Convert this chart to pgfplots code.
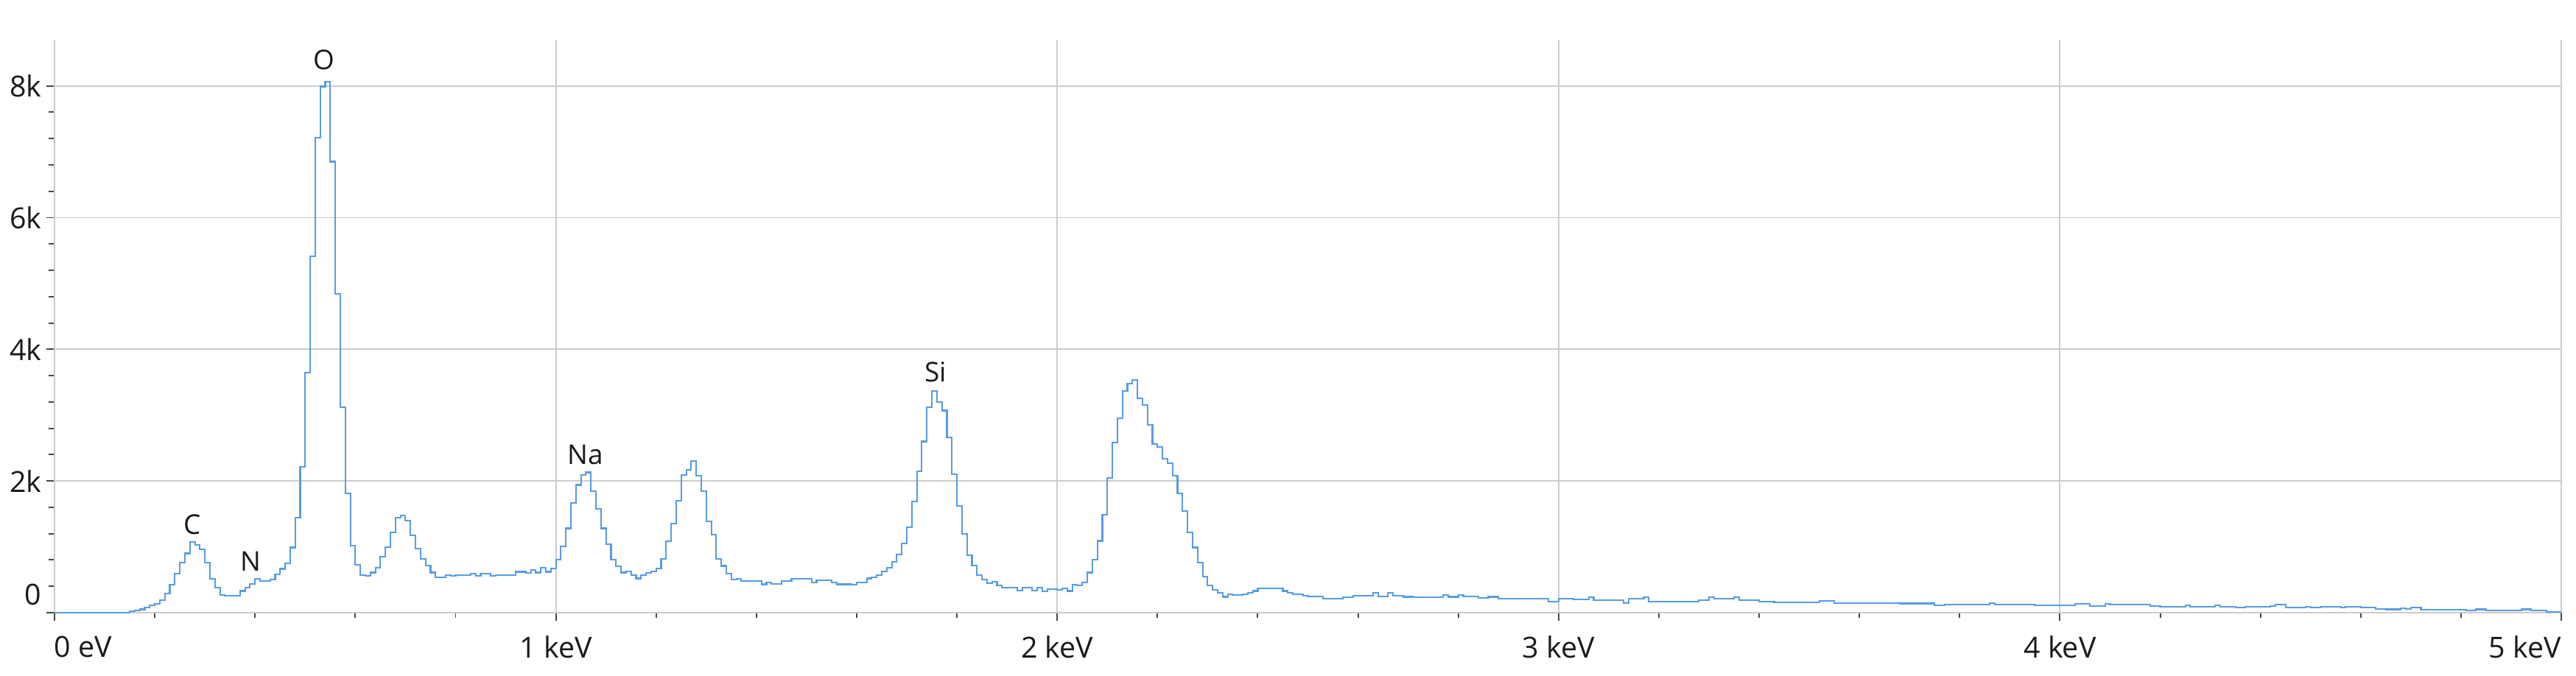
\documentclass[border=0pt]{standalone}
\usepackage{fontspec}
\setmainfont{Open Sans}
\usepackage{pgfplots}
\pgfplotsset{compat=1.18}
\definecolor{spec}{RGB}{86,156,228}
\definecolor{gridc}{RGB}{204,204,204}
\definecolor{tickc}{RGB}{70,70,70}
\definecolor{txt}{RGB}{25,25,25}
\begin{document}
\begin{tikzpicture}
\path[use as bounding box] (0,0) rectangle (34.97cm,9.18cm);
\begin{axis}[
  at={(0.74cm,0.86cm)}, anchor=south west,
  scale only axis, width=34.03cm, height=7.78cm,
  xmin=0, xmax=5, ymin=0, ymax=8700,
  axis x line*=bottom, axis y line*=left,
  axis line style={draw=gridc, line width=0.55pt, -},
  xtick={0,1,2,3,4,5},
  xticklabels={\makebox[0pt][l]{0 eV},1 keV,2 keV,3 keV,4 keV,\makebox[0pt][r]{5 keV}},
  minor x tick num=4,
  ytick={0,2000,4000,6000,8000},
  yticklabels={\raisebox{0.1cm}[0pt][0pt]{0},2k,4k,6k,8k},
  minor y tick num=4,
  tick align=outside,
  major tick length=0.11cm, minor tick length=0.075cm,
  tick style={draw=tickc, line width=0.55pt},
  grid=major,
  major grid style={draw=gridc, line width=0.55pt},
  tick label style={font=\fontsize{11.2}{13}\selectfont, text=txt, inner sep=0pt},
  xticklabel style={anchor=north, yshift=-0.2cm},
  yticklabel style={anchor=east, xshift=-0.06cm},
  clip=false,
]
\addplot[spec, line width=0.6pt, const plot mark left, no marks] table[row sep=\\] {
E c\\
0.00 0\\ 0.15 26\\ 0.16 30\\ 0.17 50\\ 0.18 80\\ 0.19 110\\
0.20 130\\ 0.21 190\\ 0.22 290\\ 0.23 420\\ 0.24 590\\ 0.25 760\\ 0.26 900\\ 0.27 1070\\ 0.28 1030\\ 0.29 960\\
0.30 760\\ 0.31 510\\ 0.32 380\\ 0.33 270\\ 0.34 260\\ 0.35 255\\ 0.36 260\\ 0.37 330\\ 0.38 385\\ 0.39 440\\
0.40 510\\ 0.41 480\\ 0.42 480\\ 0.43 500\\ 0.44 580\\ 0.45 665\\ 0.46 745\\ 0.47 990\\ 0.48 1440\\ 0.49 2210\\
0.50 3650\\ 0.51 5410\\ 0.52 7210\\ 0.53 7990\\ 0.54 8060\\ 0.55 6850\\ 0.56 4840\\ 0.57 3120\\ 0.58 1810\\ 0.59 1020\\
0.60 730\\ 0.61 575\\ 0.62 560\\ 0.63 610\\ 0.64 685\\ 0.65 850\\ 0.66 1000\\ 0.67 1220\\ 0.68 1440\\ 0.69 1480\\
0.70 1400\\ 0.71 1170\\ 0.72 970\\ 0.73 820\\ 0.74 720\\ 0.75 610\\ 0.76 540\\ 0.77 540\\ 0.78 570\\ 0.79 560\\
0.80 570\\ 0.83 590\\ 0.84 560\\ 0.85 590\\ 0.87 560\\ 0.88 570\\
0.92 620\\ 0.94 600\\ 0.95 650\\ 0.96 610\\ 0.97 685\\ 0.98 620\\ 0.99 670\\
1.00 810\\ 1.01 1010\\ 1.02 1280\\ 1.03 1670\\ 1.04 1940\\ 1.05 2090\\ 1.06 2130\\ 1.07 1850\\ 1.08 1580\\ 1.09 1280\\
1.10 1040\\ 1.11 810\\ 1.12 700\\ 1.13 610\\ 1.14 630\\ 1.15 570\\ 1.16 520\\ 1.17 570\\ 1.18 600\\ 1.19 630\\
1.20 670\\ 1.21 820\\ 1.22 1080\\ 1.23 1350\\ 1.24 1700\\ 1.25 2090\\ 1.26 2170\\ 1.27 2300\\ 1.28 2080\\ 1.29 1850\\
1.30 1390\\ 1.31 1190\\ 1.32 820\\ 1.33 710\\ 1.34 590\\ 1.35 500\\ 1.36 510\\ 1.37 480\\
1.41 430\\ 1.42 460\\ 1.43 440\\ 1.45 480\\ 1.47 510\\ 1.51 460\\ 1.52 490\\ 1.55 460\\ 1.56 430\\ 1.59 420\\
1.60 460\\ 1.62 520\\ 1.63 540\\ 1.64 570\\ 1.65 630\\ 1.66 680\\ 1.67 770\\ 1.68 880\\ 1.69 1050\\
1.70 1300\\ 1.71 1690\\ 1.72 2150\\ 1.73 2600\\ 1.74 3120\\ 1.75 3370\\ 1.76 3200\\ 1.77 3070\\ 1.78 2660\\ 1.79 2100\\
1.80 1620\\ 1.81 1200\\ 1.82 870\\ 1.83 720\\ 1.84 570\\ 1.85 500\\ 1.86 450\\ 1.87 470\\ 1.88 410\\ 1.89 380\\
1.92 340\\ 1.93 380\\ 1.95 340\\ 1.96 380\\ 1.97 320\\ 1.98 360\\
2.00 350\\ 2.01 370\\ 2.02 330\\ 2.03 420\\ 2.04 410\\ 2.05 460\\ 2.06 610\\ 2.07 810\\ 2.08 1090\\ 2.09 1490\\
2.10 2050\\ 2.11 2580\\ 2.12 2950\\ 2.13 3370\\ 2.14 3480\\ 2.15 3530\\ 2.16 3250\\ 2.17 3150\\ 2.18 2850\\ 2.19 2560\\
2.20 2520\\ 2.21 2340\\ 2.22 2270\\ 2.23 2080\\ 2.24 1810\\ 2.25 1540\\ 2.26 1220\\ 2.27 990\\ 2.28 760\\ 2.29 550\\
2.30 410\\ 2.31 350\\ 2.32 300\\ 2.33 240\\ 2.34 280\\ 2.35 270\\ 2.37 280\\ 2.38 300\\ 2.39 330\\
2.40 370\\ 2.45 330\\ 2.46 300\\ 2.47 280\\ 2.49 260\\ 2.50 250\\ 2.53 210\\ 2.57 230\\ 2.59 260\\
2.63 300\\ 2.64 250\\ 2.66 300\\ 2.67 260\\ 2.69 240\\ 2.71 230\\ 2.77 270\\ 2.78 240\\
2.80 270\\ 2.81 250\\ 2.84 220\\ 2.86 240\\ 2.88 210\\ 2.98 170\\
3.00 210\\ 3.03 200\\ 3.06 230\\ 3.07 190\\ 3.13 150\\ 3.14 210\\ 3.17 230\\ 3.18 170\\ 3.28 190\\
3.30 230\\ 3.31 210\\ 3.35 230\\ 3.36 190\\ 3.40 170\\ 3.43 160\\ 3.52 180\\ 3.55 150\\ 3.68 140\\
3.75 110\\ 3.77 125\\ 3.86 150\\ 3.87 125\\ 3.92 120\\ 3.95 110\\
4.00 110\\ 4.03 130\\ 4.06 100\\ 4.09 130\\ 4.10 120\\ 4.18 100\\ 4.20 90\\ 4.25 110\\ 4.26 90\\
4.31 110\\ 4.32 90\\ 4.35 75\\ 4.37 90\\ 4.42 100\\ 4.43 120\\ 4.45 80\\ 4.49 90\\
4.50 75\\ 4.52 90\\ 4.56 75\\ 4.57 90\\ 4.60 75\\ 4.63 60\\ 4.65 50\\ 4.68 65\\ 4.69 60\\
4.70 75\\ 4.72 45\\ 4.81 30\\ 4.83 50\\ 4.85 37\\ 4.92 50\\ 4.94 30\\ 4.97 8\\ 5.00 8\\
};
\node[font=\fontsize{10.5}{12}\selectfont, text=txt] at (axis cs:0.275,1333) {C};
\node[font=\fontsize{10.5}{12}\selectfont, text=txt] at (axis cs:0.392,784) {N};
\node[font=\fontsize{10.5}{12}\selectfont, text=txt] at (axis cs:0.537,8390) {O};
\node[font=\fontsize{10.5}{12}\selectfont, text=txt] at (axis cs:1.059,2400) {Na};
\node[font=\fontsize{10.5}{12}\selectfont, text=txt] at (axis cs:1.758,3650) {Si};
\end{axis}
\end{tikzpicture}
\end{document}
